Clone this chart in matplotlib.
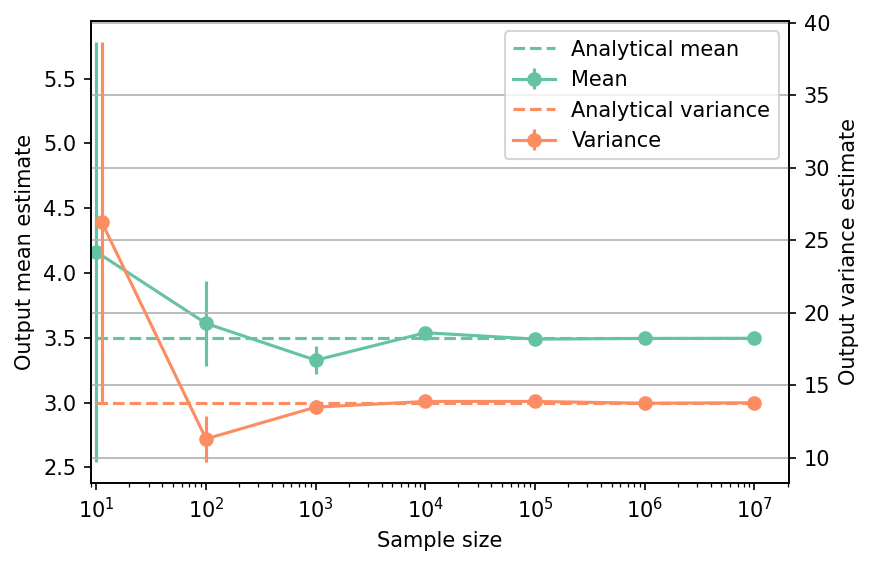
import matplotlib.pyplot as plt

sample_sizes = [10, 100, 1000, 10000, 100000, 1000000, 10000000]
var_sizes = [11.2, 100, 1000, 10000, 100000, 1000000, 10000000]  # first point nudged right

mean_est = [4.163, 3.611, 3.327, 3.539, 3.490, 3.495, 3.496]
mean_err = [1.62, 0.33, 0.11, 0.03, 0.02, 0.01, 0.005]
var_est = [26.24, 11.29, 13.48, 13.87, 13.87, 13.75, 13.78]
var_err = [12.42, 1.58, 0.5, 0.15, 0.08, 0.03, 0.01]

analytical_mean = 3.5
analytical_var = 13.78

green = '#66c2a5'
orange = '#fc8d62'

fig = plt.figure(figsize=(872 / 150, 566 / 150), dpi=150)
ax1 = fig.add_subplot(111)
fig.subplots_adjust(left=0.1044, right=0.905, top=0.963, bottom=0.147)
ax2 = ax1.twinx()

ax1.hlines(analytical_mean, sample_sizes[0], sample_sizes[-1], colors=green,
           linestyles='--', label='Analytical mean')
ax1.errorbar(sample_sizes, mean_est, yerr=mean_err, fmt='o-', color=green, label='Mean')

ax2.hlines(analytical_var, sample_sizes[0], sample_sizes[-1], colors=orange,
           linestyles='--', label='Analytical variance')
ax2.errorbar(var_sizes, var_est, yerr=var_err, fmt='o-', color=orange, label='Variance')

ax1.set_xscale('log')
ax1.set_xlim(8.95, 2.07e7)
ax1.set_xlabel('Sample size')
ax1.set_ylabel('Output mean estimate')
ax2.set_ylabel('Output variance estimate')
ax2.grid(axis='y')

h1, l1 = ax1.get_legend_handles_labels()
h2, l2 = ax2.get_legend_handles_labels()
ax2.legend(h1 + h2, l1 + l2, loc='upper right')

fig.savefig('out.png', dpi=150)
